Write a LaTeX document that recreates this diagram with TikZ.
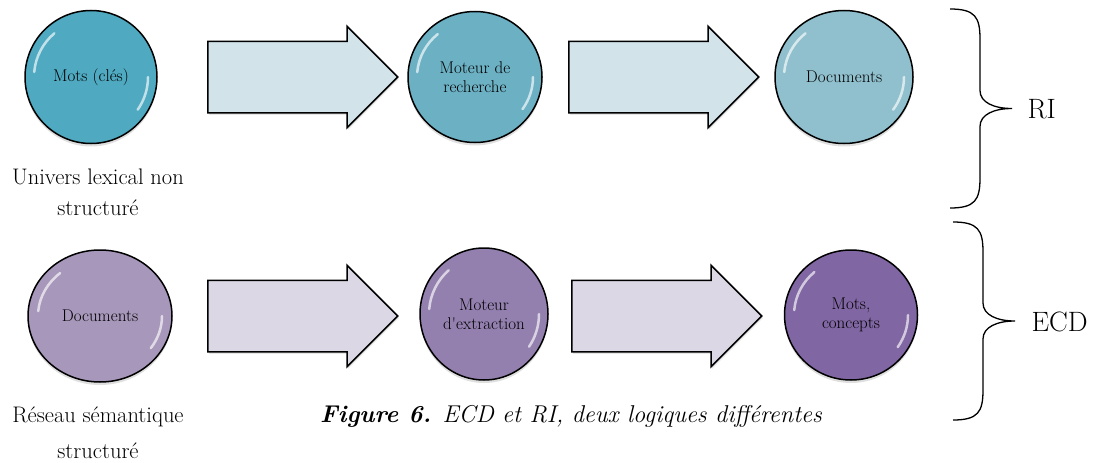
\documentclass[tikz,border=0pt]{standalone}
\usepackage{fontspec}
\usetikzlibrary{shapes.geometric, shapes.arrows, shadows, calc}
\definecolor{bleuA}{HTML}{4EA9C1}
\definecolor{bleuB}{HTML}{6CB0C4}
\definecolor{bleuC}{HTML}{90C0CE}
\definecolor{violA}{HTML}{A797BB}
\definecolor{violB}{HTML}{9380AF}
\definecolor{violC}{HTML}{8066A2}
\definecolor{flecheB}{HTML}{D2E3EA}
\definecolor{flecheV}{HTML}{DCD7E4}
\newcommand{\Petit}{\fontsize{17}{19}\selectfont}
\newcommand{\Grand}{\fontsize{22.5}{31}\selectfont}
\newcommand{\Label}{\fontsize{28}{32}\selectfont}
\newcommand{\Legende}{\fontsize{24.3}{28}\selectfont\itshape}

\begin{document}
\begin{tikzpicture}[x=1pt, y=-1pt,
  bulle/.style={ellipse, draw=black, line width=1.5pt, inner sep=0pt, align=center, font=\Petit,
    drop shadow={opacity=0.25, shadow xshift=0pt, shadow yshift=-3pt}},
  fleche/.style={single arrow, draw=black, line width=1.5pt, inner sep=0pt, anchor=tail,
    text height=35pt, text depth=35pt, minimum height=190pt, single arrow head extend=15pt,
    drop shadow={opacity=0.2, shadow xshift=1pt, shadow yshift=-2pt}},
  reflet/.style={white, line width=2.5pt, opacity=0.65, line cap=round},
  accolade/.style={line width=1.3pt},
  texte/.style={align=center, font=\Grand}]
  \useasboundingbox (0,0) rectangle (1095,463);

  \node[bulle, fill=bleuA, minimum width=132pt, minimum height=133pt] (m1) at (91, 77)  {Mots (clés)};
  \node[bulle, fill=bleuB, minimum width=134pt, minimum height=131pt] (mr) at (475, 77) {Moteur de\\recherche};
  \node[bulle, fill=bleuC, minimum width=138pt, minimum height=133pt] (d1) at (844, 77) {Documents};
  \node[bulle, fill=violA, minimum width=144pt, minimum height=132pt] (d2) at (100, 316) {Documents};
  \node[bulle, fill=violB, minimum width=128pt, minimum height=132pt] (me) at (484, 314) {Moteur\\d\textquotesingle extraction};
  \node[bulle, fill=violC, minimum width=133pt, minimum height=130pt] (mc) at (851, 315) {Mots,\\concepts};

  \node[fleche, fill=flecheB] (f1) at (207, 77)  {};
  \node[fleche, fill=flecheB] (f2) at (568, 77)  {};
  \node[fleche, fill=flecheV] (f3) at (207, 316) {};
  \node[fleche, fill=flecheV] (f4) at (571, 316) {};

  \foreach \n/\rx/\ry in {m1/57/57, mr/58/56, d1/60/57, d2/62/56, me/55/57, mc/57/56} {
    \draw[reflet] ($(\n.center)+(130:\rx pt and \ry pt)$) arc[start angle=130, end angle=175, x radius=\rx pt, y radius=\ry pt];
    \draw[reflet] ($(\n.center)+(0:\rx pt and \ry pt)$) arc[start angle=0, end angle=-35, x radius=\rx pt, y radius=\ry pt];
  }

  \node[texte] (u1) at (98, 192) {Univers lexical non\\structuré};
  \node[texte] (u2) at (98, 433) {Réseau sémantique\\[5pt]structuré};
  \node[font=\Legende] (fig) at (571, 416) {\textbf{Figure 6.} ECD et RI, deux logiques différentes};

  \coordinate (riH)  at (950, 9);
  \coordinate (riB)  at (950, 208);
  \coordinate (ecdH) at (953, 222);
  \coordinate (ecdB) at (953, 420);
  \draw[accolade] (riH) .. controls +(25,0) and +(0,-22) .. ++(30,30) -- ++(0,51.5)
    .. controls +(0,12) and +(-18,0) .. ++(32,18) .. controls +(-18,0) and +(0,-12) .. ++(-32,18)
    -- ++(0,51.5) .. controls +(0,22) and +(25,0) .. (riB);
  \draw[accolade] (ecdH) .. controls +(25,0) and +(0,-22) .. ++(30,30) -- ++(0,51)
    .. controls +(0,12) and +(-18,0) .. ++(32,18) .. controls +(-18,0) and +(0,-12) .. ++(-32,18)
    -- ++(0,51) .. controls +(0,22) and +(25,0) .. (ecdB);
  \node[font=\Label, anchor=west] (ri)  at (1024, 109) {RI};
  \node[font=\Label, anchor=west] (ecd) at (1028, 322) {ECD};
\end{tikzpicture}
\end{document}
